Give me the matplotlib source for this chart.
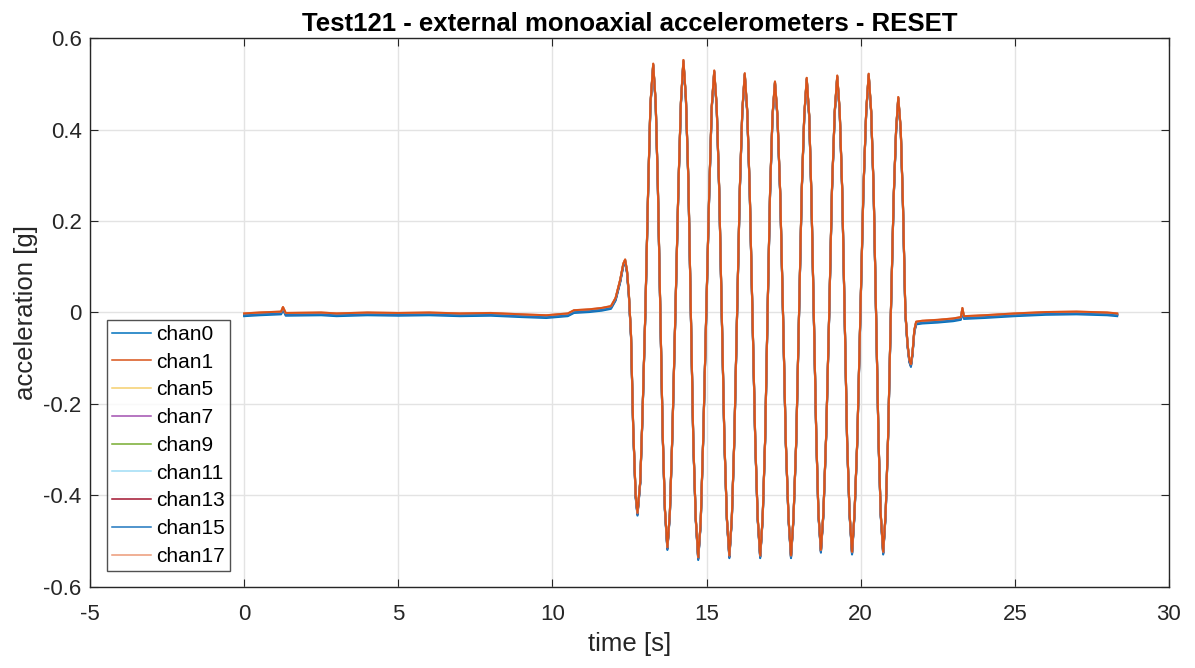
import matplotlib
matplotlib.use("Agg")
import matplotlib.pyplot as plt
import numpy as np

plt.rcParams['font.family'] = ['Liberation Sans', 'DejaVu Sans']
plt.rcParams['axes.unicode_minus'] = False

# tiempo [s] y aceleracion [g] (traza comun)
time_s = [0.00, 0.50, 1.20, 1.26, 1.35, 2.50, 3.00, 4.00, 5.00, 6.00, 7.00, 8.00,
          9.00, 9.80, 10.50, 10.70, 11.20, 11.60, 11.90, 12.05, 12.20, 12.30, 12.36,
          12.42, 12.48, 12.55, 12.62, 12.70, 12.76,
          12.85, 12.92, 13.015, 13.11, 13.18, 13.27,
          13.35, 13.42, 13.50, 13.58, 13.65, 13.73,
          13.81, 13.89, 13.99, 14.09, 14.17, 14.25,
          14.33, 14.41, 14.49, 14.57, 14.65, 14.73,
          14.81, 14.89, 14.99, 15.09, 15.17, 15.25,
          15.33, 15.41, 15.495, 15.58, 15.66, 15.74,
          15.82, 15.90, 15.99, 16.08, 16.16, 16.24,
          16.32, 16.40, 16.49, 16.58, 16.66, 16.74,
          16.82, 16.90, 16.98, 17.06, 17.14, 17.22,
          17.30, 17.39, 17.48, 17.57, 17.66, 17.74,
          17.82, 17.91, 18.00, 18.09, 18.17, 18.25,
          18.33, 18.40, 18.48, 18.56, 18.63, 18.71,
          18.79, 18.88, 18.98, 19.07, 19.16, 19.24,
          19.32, 19.40, 19.48, 19.56, 19.64, 19.72,
          19.80, 19.89, 19.99, 20.09, 20.18, 20.26,
          20.34, 20.42, 20.50, 20.58, 20.65, 20.73,
          20.81, 20.89, 20.98, 21.07, 21.15, 21.22,
          21.30, 21.37, 21.45, 21.52, 21.58, 21.63, 21.68, 21.74, 21.80,
          22.00, 22.50, 23.00, 23.25, 23.30, 23.35, 24.00, 25.00, 26.00, 27.00,
          28.00, 28.32]
accel_g = [-0.004, -0.002, 0.000, 0.010, -0.003, -0.002, -0.004, -0.002, -0.003, -0.002,
           -0.004, -0.003, -0.006, -0.008, -0.004, 0.003, 0.005, 0.008, 0.012, 0.030,
           0.070, 0.105, 0.114, 0.090, 0.040, -0.050, -0.250, -0.400, -0.440,
           -0.370, -0.230, 0.000, 0.280, 0.455, 0.542,
           0.460, 0.280, 0.000, -0.270, -0.430, -0.515,
           -0.440, -0.270, 0.000, 0.280, 0.460, 0.550,
           0.470, 0.290, 0.000, -0.280, -0.450, -0.537,
           -0.460, -0.280, 0.000, 0.270, 0.450, 0.527,
           0.450, 0.270, 0.000, -0.280, -0.450, -0.533,
           -0.450, -0.280, 0.000, 0.270, 0.440, 0.521,
           0.440, 0.270, 0.000, -0.280, -0.450, -0.533,
           -0.450, -0.280, 0.000, 0.260, 0.430, 0.503,
           0.430, 0.260, 0.000, -0.280, -0.450, -0.533,
           -0.450, -0.280, 0.000, 0.270, 0.430, 0.511,
           0.430, 0.260, 0.000, -0.270, -0.440, -0.521,
           -0.440, -0.270, 0.000, 0.270, 0.440, 0.516,
           0.440, 0.270, 0.000, -0.280, -0.440, -0.525,
           -0.440, -0.280, 0.000, 0.270, 0.440, 0.520,
           0.440, 0.270, 0.000, -0.280, -0.440, -0.525,
           -0.440, -0.270, 0.000, 0.250, 0.400, 0.469,
           0.400, 0.240, 0.000, -0.070, -0.105, -0.115, -0.090, -0.040, -0.022,
           -0.020, -0.018, -0.015, -0.012, 0.008, -0.010, -0.008, -0.004, -0.001, 0.000,
           -0.002, -0.004]

channels = ['chan0', 'chan1', 'chan5', 'chan7', 'chan9', 'chan11', 'chan13', 'chan15', 'chan17']
# pequeñas diferencias entre canales (offset en g)
offsets = [-0.004, 0.001, 0.000, -0.001, 0.000, 0.001, -0.001, -0.002, 0.002]
colors = ['#0072BD', '#D95319', '#F5CF6E', '#A24FB0', '#77AC30', '#9FDDF5', '#A2142F', '#1F77BE', '#EC9A78']

fig = plt.figure(figsize=(11.95, 6.68), dpi=100)
ax = fig.add_axes([0.0753, 0.1213, 0.9029, 0.8218])

t = np.array(time_s)
a = np.array(accel_g)
for name, off, col in zip(channels, offsets, colors):
    ax.plot(t, a + off, color=col, lw=1.5, label=name)
# chan17 se ve encima
ax.plot(t, a + offsets[-1], color='#D95319', lw=1.4)

ax.set_xlim(-5, 30)
ax.set_ylim(-0.6, 0.6)
ax.set_xticks(np.arange(-5, 31, 5))
ax.set_yticks(np.arange(-0.6, 0.61, 0.2))
ax.set_yticklabels(['-0.6', '-0.4', '-0.2', '0', '0.2', '0.4', '0.6'])
ax.grid(True, color='#E3E3E3', lw=1)
ax.set_axisbelow(True)
ax.tick_params(direction='in', length=6, labelsize=16, colors='#262626', top=True, right=True)
ax.tick_params(axis='x', pad=12)
ax.tick_params(axis='y', pad=6)
for sp in ax.spines.values():
    sp.set_color('#262626')
    sp.set_linewidth(1)

ax.set_xlabel('time [s]', fontsize=18.5, color='#262626', labelpad=5)
ax.set_ylabel('acceleration [g]', fontsize=18.5, color='#262626', labelpad=4)
ax.set_title('Test121 - external monoaxial accelerometers - RESET', fontsize=18.5,
             fontweight='bold', pad=5)

leg = ax.legend(loc='lower left', bbox_to_anchor=(0.0158, 0.029), fontsize=15,
                frameon=True, fancybox=False, edgecolor='#262626', handlelength=1.85,
                handletextpad=0.25, labelspacing=0.42, borderpad=0.25, borderaxespad=0)
leg.get_frame().set_linewidth(1)
for ln in leg.get_lines():
    ln.set_linewidth(1.1)

fig.savefig('out.png', dpi=100)
